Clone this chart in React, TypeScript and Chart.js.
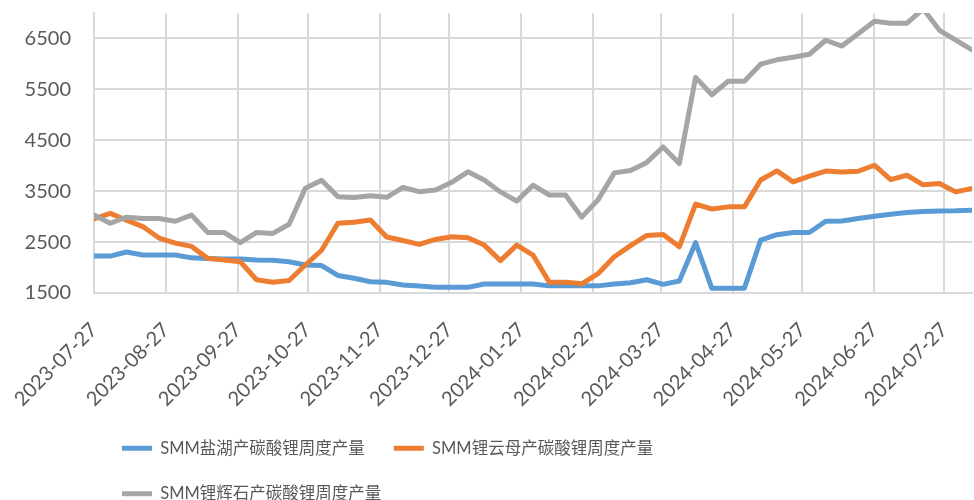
import React, { useEffect, useRef } from 'react';
import { Chart, registerables } from 'chart.js';

Chart.register(...registerables);

const weekDates = [
  '2023-07-27', '2023-08-03', '2023-08-10', '2023-08-17', '2023-08-24', '2023-08-31',
  '2023-09-07', '2023-09-14', '2023-09-21', '2023-09-28', '2023-10-05', '2023-10-12',
  '2023-10-19', '2023-10-26', '2023-11-02', '2023-11-09', '2023-11-16', '2023-11-23',
  '2023-11-30', '2023-12-07', '2023-12-14', '2023-12-21', '2023-12-28', '2024-01-04',
  '2024-01-11', '2024-01-18', '2024-01-25', '2024-02-01', '2024-02-08', '2024-02-15',
  '2024-02-22', '2024-02-29', '2024-03-07', '2024-03-14', '2024-03-21', '2024-03-28',
  '2024-04-04', '2024-04-11', '2024-04-18', '2024-04-25', '2024-05-02', '2024-05-09',
  '2024-05-16', '2024-05-23', '2024-05-30', '2024-06-06', '2024-06-13', '2024-06-20',
  '2024-06-27', '2024-07-04', '2024-07-11', '2024-07-18', '2024-07-25', '2024-08-01',
  '2024-08-08',
];

const saltLake = [
  2225, 2225, 2305, 2245, 2245, 2245, 2190, 2180, 2170, 2166, 2150, 2145,
  2114, 2049, 2040, 1845, 1790, 1722, 1709, 1657, 1637, 1611, 1611, 1611,
  1676, 1676, 1676, 1676, 1640, 1640, 1640, 1640, 1676, 1702, 1760, 1670,
  1735, 2490, 1592, 1592, 1592, 2539, 2645, 2688, 2688, 2910, 2915, 2964,
  3009, 3045, 3081, 3100, 3110, 3114, 3127,
];

const lepidolite = [
  2955, 3065, 2930, 2805, 2580, 2480, 2415, 2180, 2147, 2114, 1760, 1710,
  1745, 2050, 2340, 2870, 2890, 2935, 2600, 2530, 2455, 2552, 2605, 2585,
  2441, 2135, 2441, 2245, 1712, 1712, 1680, 1880, 2212, 2430, 2630, 2650,
  2408, 3245, 3150, 3192, 3192, 3720, 3898, 3682, 3797, 3895, 3878, 3891,
  4010, 3728, 3813, 3625, 3650, 3486, 3552,
];

const spodumene = [
  3030, 2870, 2990, 2965, 2965, 2910, 3030, 2690, 2690, 2490, 2690, 2670,
  2850, 3560, 3715, 3390, 3375, 3410, 3380, 3575, 3490, 3525, 3675, 3880,
  3720, 3486, 3305, 3617, 3425, 3425, 2990, 3330, 3860, 3905, 4065, 4368,
  4042, 5735, 5395, 5660, 5660, 5995, 6080, 6132, 6190, 6465, 6350, 6590,
  6838, 6800, 6800, 7080, 6660, 6465, 6276,
];

const seriesNames = [
  'SMM盐湖产碳酸锂周度产量',
  'SMM锂云母产碳酸锂周度产量',
  'SMM锂辉石产碳酸锂周度产量',
];

const xTickLabels = [
  '2023-07-27', '2023-08-27', '2023-09-27', '2023-10-27', '2023-11-27', '2023-12-27',
  '2024-01-27', '2024-02-27', '2024-03-27', '2024-04-27', '2024-05-27', '2024-06-27',
  '2024-07-27',
];

const yTickValues = [1500, 2500, 3500, 4500, 5500, 6500];
const yMin = 1500;
const yMax = 7000;

const dayOffset = (s: string) => {
  const [y, m, d] = s.split('-').map(Number);
  return (Date.UTC(y, m - 1, d) - Date.UTC(2023, 6, 27)) / 86400000;
};

const TEXT = '#595959';
const GRID = '#d9d9d9';

const legendPlacer = {
  id: 'legendPlacer',
  beforeLayout(chart: any) {
    const lg = chart.legend;
    if (lg && !lg.__fixed) {
      const proto = Object.getPrototypeOf(lg);
      lg.fit = function () {
        proto.fit.call(this);
        this.height = 90;
      };
      lg.__fixed = true;
    }
  },
  afterLayout(chart: any) {
    const lg = chart.legend;
    if (!lg) return;
    lg.left = 93;
    lg.right = 800;
    lg.width = lg.right - lg.left;
    lg.top = 411;
    lg.bottom = 500;
  },
};

export default function App() {
  const ref = useRef<HTMLCanvasElement | null>(null);

  useEffect(() => {
    if (!ref.current) return;
    const xs = weekDates.map(dayOffset);
    const mk = (vals: number[]) => vals.map((v, i) => ({ x: xs[i], y: v }));
    const labelMap = new Map<number, string>();
    xTickLabels.forEach((l) => labelMap.set(dayOffset(l), l));

    const colors = ['#5B9BD5', '#ED7D31', '#A5A5A5'];
    const values = [saltLake, lepidolite, spodumene];

    const chart = new Chart(ref.current, {
      type: 'line',
      data: {
        datasets: values.map((vals, i) => ({
          label: seriesNames[i],
          data: mk(vals),
          borderColor: colors[i],
          backgroundColor: colors[i],
          borderWidth: 5,
          pointRadius: 0,
          pointHoverRadius: 0,
          tension: 0,
          borderJoinStyle: 'round' as const,
          borderCapStyle: 'round' as const,
          order: 3 - i,
        })),
      },
      options: {
        animation: false,
        responsive: false,
        layout: { padding: { top: 13, right: 2, bottom: 0, left: 0 } },
        plugins: {
          tooltip: { enabled: false },
          legend: {
            position: 'bottom',
            align: 'start',
            labels: {
              usePointStyle: true,
              pointStyle: 'line',
              pointStyleWidth: 30,
              padding: 29,
              color: TEXT,
              font: { family: 'Lato, "Noto Sans CJK SC"', size: 16.5 },
              sort: (a: any, b: any) => a.datasetIndex - b.datasetIndex,
            },
          },
        },
        scales: {
          x: {
            type: 'linear',
            min: 0,
            max: dayOffset(weekDates[weekDates.length - 1]),
            afterBuildTicks: (scale: any) => {
              scale.ticks = xTickLabels.map((l) => ({ value: dayOffset(l) }));
            },
            afterFit: (scale: any) => {
              scale.height = 117;
              scale.paddingLeft = 0;
              scale.paddingRight = 0;
            },
            grid: { color: GRID, lineWidth: 2, drawTicks: false },
            border: { color: GRID, width: 2 },
            ticks: {
              autoSkip: false,
              minRotation: 45,
              maxRotation: 45,
              padding: 25,
              color: TEXT,
              font: { family: 'Lato', size: 20 },
              callback: (v: any) => labelMap.get(Number(v)) ?? '',
            },
          },
          y: {
            type: 'linear',
            min: yMin,
            max: yMax,
            afterBuildTicks: (scale: any) => {
              scale.ticks = yTickValues.map((v) => ({ value: v }));
            },
            afterFit: (scale: any) => {
              scale.width = 94;
              scale.paddingTop = 0;
              scale.paddingBottom = 0;
            },
            grid: { color: GRID, lineWidth: 2, drawTicks: false },
            border: { color: GRID, width: 2 },
            ticks: {
              padding: 23,
              color: TEXT,
              font: { family: 'Lato', size: 20 },
              callback: (v: any) => String(v),
            },
          },
        },
      },
      plugins: [legendPlacer],
    } as any);

    return () => chart.destroy();
  }, []);

  return (
    <div style={{ position: 'fixed', left: 0, top: 0, width: 974, height: 500, background: '#fff' }}>
      <canvas ref={ref} width={974} height={500} style={{ display: 'block' }} />
    </div>
  );
}
